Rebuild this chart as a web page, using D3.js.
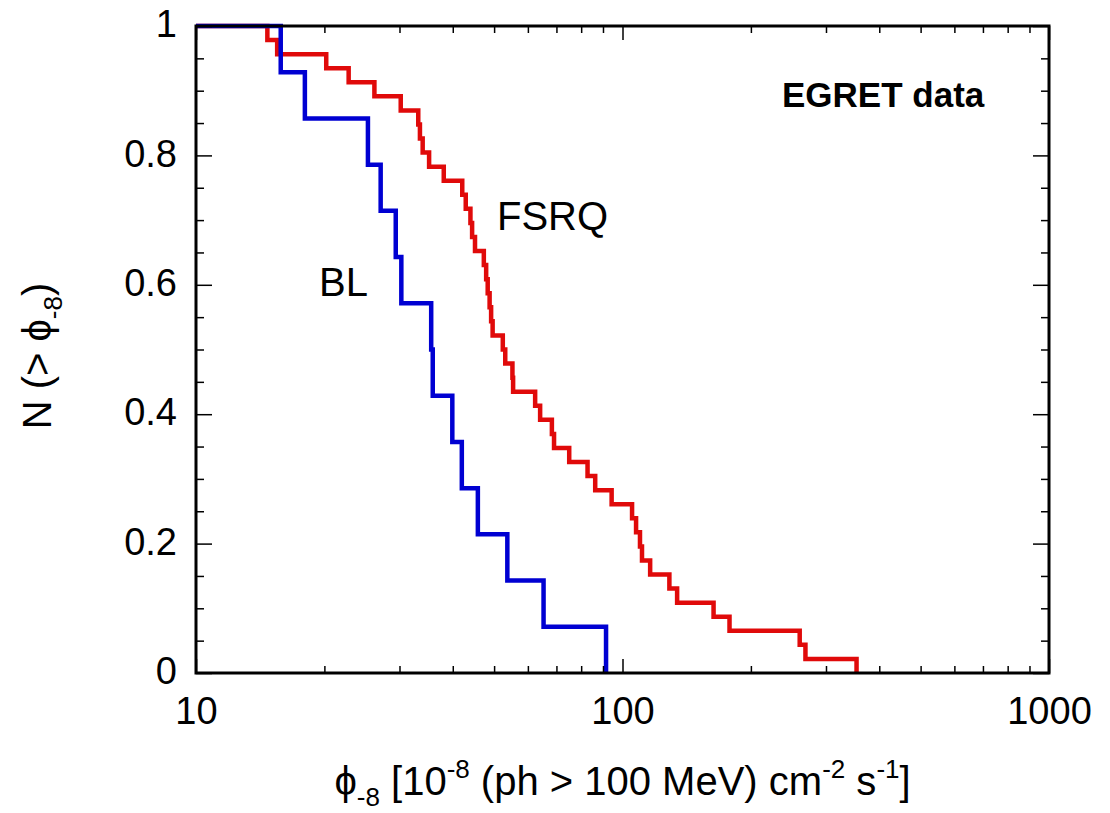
<!DOCTYPE html>
<html>
<head>
<meta charset="utf-8">
<script src="https://cdnjs.cloudflare.com/ajax/libs/d3/7.8.5/d3.min.js"></script>
<style>
    body { margin: 0; background: #fff; }
    text { font-family: "Liberation Sans", Arial, Helvetica, sans-serif; fill: #000; }
</style>
</head>
<body>
<div id="chart"></div>
<script>
// photon fluxes (10^-8 ph cm^-2 s^-1, >100 MeV)
const blFlux = [15.8, 18.0, 25.3, 27.1, 29.4, 30.3, 35.6, 35.9, 39.9, 42.0, 45.8, 53.7, 65.3, 91.5];
const fsrqFlux = [14.7, 15.5, 20.2, 22.8, 26.2, 30.2, 33.2, 33.5, 34.0, 35.2, 38.1,
    42.1, 42.9, 44.0, 44.4, 45.1, 47.3, 47.9, 48.3, 48.8, 49.2, 49.6, 52.4, 53.1,
    55.2, 55.4, 62.4, 64.1, 68.3, 69.1, 75.0, 82.8, 86.3, 94.3, 105.3, 107.6,
    109.9, 111.1, 116.1, 128.8, 134.3, 163.5, 178.2, 260.3, 268.5, 353.8];

const xMajorTicks = [10, 100, 1000];
const xMinorTicks = [20, 30, 40, 50, 60, 70, 80, 90, 200, 300, 400, 500, 600, 700, 800, 900];
const yMajorTicks = [0, 0.2, 0.4, 0.6, 0.8, 1];
const yMinorTicks = [0.05, 0.1, 0.15, 0.25, 0.3, 0.35, 0.45, 0.5, 0.55, 0.65, 0.7, 0.75, 0.85, 0.9, 0.95];

const series = [
    { name: "FSRQ", flux: fsrqFlux, color: "#e00a0a", label: [497, 230] },
    { name: "BL", flux: blFlux, color: "#0000d2", label: [319, 296] }
];

const margin = { top: 26, right: 61, bottom: 140, left: 196 };
const width = 1110 - margin.left - margin.right;
const height = 813 - margin.top - margin.bottom;

const svg = d3.select("#chart").append("svg")
    .attr("width", 1110)
    .attr("height", 813)
    .append("g")
    .attr("transform", `translate(${margin.left}, ${margin.top})`);

const x = d3.scaleLog().domain([10, 1000]).range([0, width]);
const y = d3.scaleLinear().domain([0, 1]).range([height, 0]);

// integral counts N(>phi): start at 1, drop one source at each flux
function cumulative(flux) {
    const n = flux.length;
    const pts = [{ f: 10, n: 1 }];
    flux.slice().sort((a, b) => a - b).forEach((f, i) => pts.push({ f: f, n: (n - i - 1) / n }));
    return pts;
}

const line = d3.line()
    .x(d => x(d.f))
    .y(d => y(d.n))
    .curve(d3.curveStepAfter);

series.forEach(s => {
    svg.append("path")
        .datum(cumulative(s.flux))
        .attr("d", line)
        .attr("fill", "none")
        .attr("stroke", s.color)
        .attr("stroke-width", 4.5)
        .attr("stroke-linejoin", "miter");
});

// axes with inward ticks on all four sides
function addAxis(axis, transform, labels) {
    const g = svg.append("g").attr("transform", transform).call(axis);
    g.select(".domain").remove();
    g.selectAll(".tick line").attr("stroke", "#000").attr("stroke-width", 1.5);
    g.selectAll("text").style("font-size", "38px").style("font-family", "Liberation Sans, Arial, sans-serif");
    if (!labels) g.selectAll("text").remove();
    return g;
}

const fmtX = d => d3.format("d")(d);
const fmtY = d => (d === 0 || d === 1) ? String(d) : d.toFixed(1);

addAxis(d3.axisBottom(x).tickValues(xMajorTicks).tickSize(-14).tickPadding(24).tickFormat(fmtX), `translate(0, ${height})`, true);
addAxis(d3.axisBottom(x).tickValues(xMinorTicks).tickSize(-7).tickFormat(""), `translate(0, ${height})`, false);
addAxis(d3.axisTop(x).tickValues(xMajorTicks).tickSize(-14).tickFormat(""), "translate(0, 0)", false);
addAxis(d3.axisTop(x).tickValues(xMinorTicks).tickSize(-7).tickFormat(""), "translate(0, 0)", false);

const yAxisG = addAxis(d3.axisLeft(y).tickValues(yMajorTicks).tickSize(-16).tickPadding(19).tickFormat(fmtY), "translate(0, 0)", true);
yAxisG.selectAll("text").attr("dy", "0.28em");
addAxis(d3.axisLeft(y).tickValues(yMinorTicks).tickSize(-8).tickFormat(""), "translate(0, 0)", false);
addAxis(d3.axisRight(y).tickValues(yMajorTicks).tickSize(-16).tickFormat(""), `translate(${width}, 0)`, false);
addAxis(d3.axisRight(y).tickValues(yMinorTicks).tickSize(-8).tickFormat(""), `translate(${width}, 0)`, false);

// frame
svg.append("rect")
    .attr("width", width)
    .attr("height", height)
    .attr("fill", "none")
    .attr("stroke", "#000")
    .attr("stroke-width", 3);

// series labels
series.forEach(s => {
    svg.append("text")
        .attr("x", s.label[0] - margin.left)
        .attr("y", s.label[1] - margin.top)
        .style("font-size", "40px")
        .text(s.name);
});

svg.append("text")
    .attr("x", 782 - margin.left)
    .attr("y", 107 - margin.top)
    .style("font-size", "35px")
    .style("font-weight", "bold")
    .text("EGRET data");

// text with sub/superscripts, offsets in px so they don't depend on tspan size
function richText(sel, parts) {
    let shift = 0;
    parts.forEach(p => {
        const target = p.sub ? 11 : p.sup ? -17 : 0;
        const t = sel.append("tspan").attr("dy", target - shift).text(p.t);
        if (p.sub || p.sup) t.style("font-size", "26px");
        shift = target;
    });
}

// x axis title
const xTitle = svg.append("text")
    .attr("x", width / 2)
    .attr("y", 795 - margin.top)
    .attr("text-anchor", "middle")
    .style("font-size", "40px");
richText(xTitle, [
    { t: "ϕ" }, { t: "-8", sub: true }, { t: " [10" }, { t: "-8", sup: true },
    { t: " (ph > 100 MeV) cm" }, { t: "-2", sup: true }, { t: " s" }, { t: "-1", sup: true }, { t: "]" }
]);

// y axis title
const yTitle = svg.append("text")
    .attr("transform", `translate(${51 - margin.left}, ${356 - margin.top}) rotate(-90)`)
    .attr("text-anchor", "middle")
    .style("font-size", "40px");
richText(yTitle, [{ t: "N (> ϕ" }, { t: "-8", sub: true }, { t: ")" }]);
</script>
</body>
</html>
